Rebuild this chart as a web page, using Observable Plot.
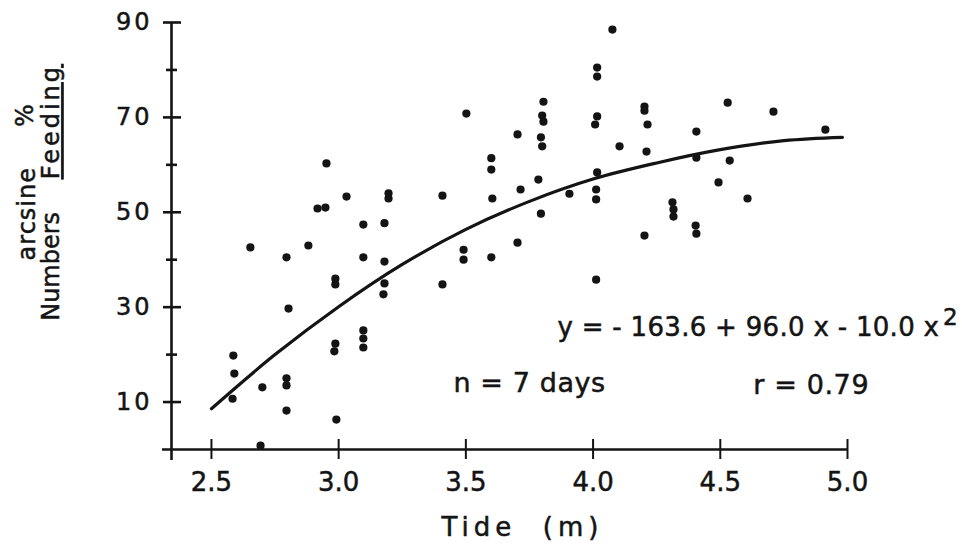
<!DOCTYPE html>
<html>
<head>
<meta charset="utf-8">
<script src="https://cdn.jsdelivr.net/npm/d3@7"></script>
<script src="https://cdn.jsdelivr.net/npm/@observablehq/plot@0.6"></script>
<style>
  html, body { margin: 0; padding: 0; background: #fff; }
</style>
</head>
<body>
<div id="chart"></div>
<script>
// Observed points: tide height (m) and arcsine % numbers feeding
const tide = [
  2.586, 2.590, 2.583,
  2.653,
  2.700, 2.693,
  2.795, 2.803, 2.795, 2.795, 2.795,
  2.881,
  2.917, 2.948, 2.952,
  2.987, 2.987, 2.987, 2.983, 2.991, 3.031,
  3.097, 3.097, 3.097, 3.097, 3.097,
  3.196, 3.196, 3.180, 3.180, 3.180, 3.176,
  3.408, 3.408,
  3.502, 3.491, 3.491,
  3.600, 3.600, 3.604, 3.600,
  3.703, 3.715, 3.703,
  3.805, 3.800, 3.805, 3.795, 3.800, 3.785, 3.795,
  3.907,
  4.016, 4.016, 4.016, 4.008, 4.016, 4.012, 4.012, 4.012,
  4.076,
  4.104,
  4.202, 4.202, 4.214, 4.210, 4.202,
  4.312, 4.316, 4.316,
  4.406, 4.406, 4.403, 4.406,
  4.493,
  4.529, 4.537,
  4.607,
  4.709,
  4.913
];
const feeding = [
  19.8, 16.0, 10.7,
  42.6,
  13.1, 0.8,
  40.5, 29.7, 15.0, 13.5, 8.2,
  43.0,
  50.8, 51.0, 60.3,
  36.0, 34.8, 22.3, 20.7, 6.3, 53.3,
  47.4, 40.5, 25.1, 23.4, 21.5,
  54.0, 52.9, 47.7, 39.6, 35.0, 32.7,
  53.5, 34.8,
  70.8, 42.1, 40.0,
  61.4, 59.0, 52.9, 40.5,
  66.4, 54.8, 43.6,
  73.3, 70.4, 69.1, 65.8, 63.9, 56.9, 49.7,
  53.9,
  80.5, 78.6, 70.2, 68.5, 58.4, 54.8, 52.7, 35.8,
  88.5,
  63.9,
  72.3, 71.4, 68.5, 62.8, 45.1,
  52.1, 50.6, 49.1,
  67.0, 61.5, 47.2, 45.5,
  56.3,
  73.1, 60.9,
  52.9,
  71.2,
  67.4
];
// Fitted curve as drawn in the figure
const curveTide = [2.5, 2.75, 3.0, 3.25, 3.5, 3.75, 4.0, 4.25, 4.5, 4.75, 4.98];
const curveFeeding = [8.6, 20.0, 30.1, 39.0, 46.4, 52.3, 57.0, 60.4, 63.2, 65.1, 65.8];

const xTickValues = [2.5, 3.0, 3.5, 4.0, 4.5, 5.0];
const yLabelValues = [10, 30, 50, 70, 90];
const yMinorValues = [20, 40, 60, 80];

const xLabel = "Tide  (m)";
const yLabelTop = ["arcsine", "%"];
const yLabelBottom = ["Numbers", "Feeding"];
const equationText = "y = - 163.6 + 96.0 x - 10.0 x";
const equationExponent = "2";
const nText = "n = 7 days";
const rText = "r = 0.79";

const points = tide.map((t, i) => ({tide: t, feeding: feeding[i]}));
const curve = curveTide.map((t, i) => ({tide: t, feeding: curveFeeding[i]}));

const xMin = 2.343, xMax = 5.0;
const ink = "#141414";
const font = "DejaVu Sans";
const label = {fill: ink, textAnchor: "middle", lineAnchor: "middle", rotate: -90, frameAnchor: "left", fontSize: 24};

const chart = Plot.plot({
  width: 962,
  height: 552,
  marginLeft: 171,
  marginRight: 115,
  marginTop: 22,
  marginBottom: 103,
  x: {domain: [xMin, xMax]},
  y: {domain: [0, 90]},
  style: {fontFamily: font, color: ink, background: "#fff", overflow: "visible"},
  marks: [
    // axis lines
    Plot.ruleY([0], {x1: xMin, x2: xMax, insetLeft: -9, stroke: ink, strokeWidth: 2.6}),
    Plot.ruleX([xMin], {y1: 90, y2: 0, insetBottom: -11, stroke: ink, strokeWidth: 2.6}),
    // x ticks crossing the axis
    Plot.ruleX(xTickValues, {x: d => d, y1: 0, y2: 0, insetTop: -10, insetBottom: -10, stroke: ink, strokeWidth: 2}),
    // y ticks crossing the axis
    Plot.ruleY(yLabelValues, {y: d => d, x1: xMin, x2: xMin, insetLeft: -8, insetRight: -10, stroke: ink, strokeWidth: 2.6}),
    Plot.ruleY(yMinorValues, {y: d => d, x1: xMin, x2: xMin, insetLeft: -5, insetRight: -6, stroke: ink, strokeWidth: 2.6}),
    // tick labels
    Plot.axisX({ticks: xTickValues, tickSize: 0, tickPadding: 23, tickFormat: d => d.toFixed(1), fontSize: 26, label: null}),
    Plot.axisY({ticks: yLabelValues, tickSize: 0, tickPadding: 19, fontSize: 24, label: null}),
    // data
    Plot.line(curve, {x: "tide", y: "feeding", curve: "catmull-rom", stroke: ink, strokeWidth: 3.2}),
    Plot.dot(points, {x: "tide", y: "feeding", r: 4.1, fill: ink, stroke: "none"}),
    // x axis title
    Plot.text([xLabel], {frameAnchor: "bottom", dx: 13, dy: 86, fontSize: 26, fill: ink}),
    // y axis title (two rotated lines)
    Plot.text([yLabelTop[0]], {...label, y: 49.7, dx: -144}),
    Plot.text([yLabelTop[1]], {...label, y: 70.4, dx: -146}),
    Plot.text([yLabelBottom[0]], {...label, y: 38.6, dx: -120}),
    Plot.text([yLabelBottom[1]], {...label, y: 69.1, dx: -120}),
    // annotations
    Plot.text([equationText], {x: 3.860, y: 25.7, textAnchor: "start", fontSize: 26, fill: ink}),
    Plot.text([equationExponent], {x: 5.375, y: 27.8, textAnchor: "start", fontSize: 23, fill: ink}),
    Plot.text([nText], {x: 3.451, y: 13.9, textAnchor: "start", fontSize: 27, fill: ink}),
    Plot.text([rText], {x: 4.630, y: 13.5, textAnchor: "start", fontSize: 27, fill: ink})
  ]
});

document.getElementById("chart").appendChild(chart);

// typographic touches
d3.select(chart).selectAll("text").each(function() {
  const t = this.textContent;
  const s = d3.select(this);
  s.style("stroke", ink).style("stroke-width", "0.5px");
  if (t === xLabel) s.style("letter-spacing", "5px").style("white-space", "pre");
  if (t === "Feeding") s.style("text-decoration", "underline").style("text-underline-offset", "9px").style("letter-spacing", "3px");
  if (t === "arcsine") s.style("letter-spacing", "1px");
  if (t === nText || t === rText) s.style("letter-spacing", "0.6px");
  if (t === equationText) s.style("letter-spacing", "0.3px");
});
d3.select(chart).selectAll("g[aria-label='y-axis tick label'] text").style("letter-spacing", "3px");
</script>
</body>
</html>
